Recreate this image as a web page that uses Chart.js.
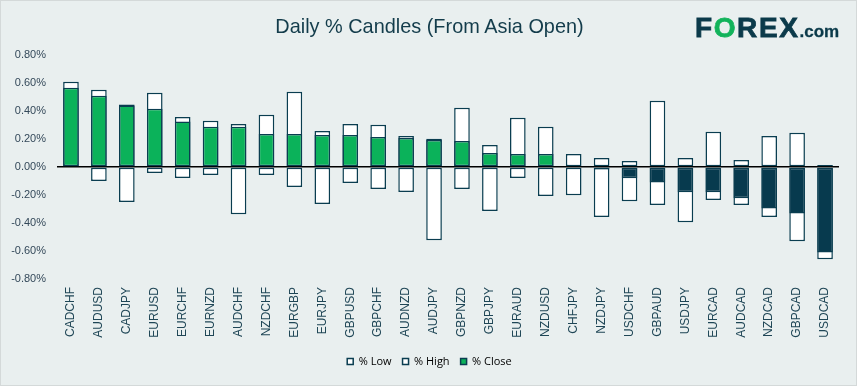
<!DOCTYPE html>
<html>
<head>
<meta charset="utf-8">
<script src="https://cdn.jsdelivr.net/npm/chart.js@4"></script>
<style>
  html, body { margin: 0; padding: 0; background: #fff; }
  .frame {
    position: relative;
    width: 855px;
    height: 384px;
    border: 1px solid #d4d9d9;
    background: #e9efef;
  }
  canvas { position: absolute; left: -1px; top: -1px; }
  .title {
    position: absolute;
    left: 0;
    width: 857px;
    top: 13px;
    text-align: center;
    font: 21px "Liberation Sans", Arial, sans-serif;
    color: #133c4b;
    transform: scaleX(0.947);
  }
  .logo {
    position: absolute;
    left: 694px;
    top: 11px;
    font: bold 28px "Liberation Sans", Arial, sans-serif;
    color: #0b3a4a;
    letter-spacing: 1.6px;
    -webkit-text-stroke: 0.8px #0b3a4a;
    white-space: nowrap;
  }
  .logo .o { color: #12b35b; -webkit-text-stroke: 0.8px #12b35b; }
  .logo .com { font-size: 17px; letter-spacing: 0; -webkit-text-stroke: 0.3px #0b3a4a; }
</style>
</head>
<body>
<div class="frame">
  <canvas id="candles" width="857" height="386"></canvas>
  <div class="title">Daily % Candles (From Asia Open)</div>
  <div class="logo">F<span class="o">O</span>REX<span class="com">.com</span></div>
</div>
<script>
const pairs = [
  "CADCHF", "AUDUSD", "CADJPY", "EURUSD", "EURCHF", "EURNZD", "AUDCHF",
  "NZDCHF", "EURGBP", "EURJPY", "GBPUSD", "GBPCHF", "AUDNZD", "AUDJPY",
  "GBPNZD", "GBPJPY", "EURAUD", "NZDUSD", "CHFJPY", "NZDJPY", "USDCHF",
  "GBPAUD", "USDJPY", "EURCAD", "AUDCAD", "NZDCAD", "GBPCAD", "USDCAD",
];
const lowPct = [
  0.0, -0.1, -0.25, -0.043, -0.079, -0.057, -0.337,
  -0.057, -0.143, -0.265, -0.115, -0.158, -0.179, -0.523,
  -0.158, -0.315, -0.079, -0.208, -0.201, -0.358, -0.244,
  -0.272, -0.394, -0.236, -0.272, -0.358, -0.53, -0.659,
];
const highPct = [
  0.609, 0.552, 0.447, 0.53, 0.358, 0.33, 0.308,
  0.373, 0.537, 0.258, 0.308, 0.301, 0.222, 0.201,
  0.423, 0.158, 0.351, 0.287, 0.093, 0.064, 0.043,
  0.473, 0.064, 0.251, 0.05, 0.222, 0.244, 0.014,
];
const closePct = [
  0.566, 0.509, 0.439, 0.416, 0.325, 0.287, 0.287,
  0.236, 0.236, 0.229, 0.229, 0.215, 0.208, 0.193,
  0.186, 0.1, 0.093, 0.093, 0.0, -0.017, -0.081,
  -0.11, -0.181, -0.181, -0.224, -0.296, -0.332, -0.611,
];
const yTicks = [-0.8, -0.6, -0.4, -0.2, 0, 0.2, 0.4, 0.6, 0.8];

const GREEN = "#0bb25a";
const NAVY = "#073a4e";
const EDGE = "#0a3d50";

// nudge the legend so it centres on the whole canvas, like the original
const legendShift = {
  id: "legendShift",
  afterLayout(chart) {
    if (!chart.legend) return;
    chart.legend.left += 10;
    chart.legend.right += 10;
  },
};

new Chart(document.getElementById("candles"), {
  type: "bar",
  data: {
    labels: pairs,
    datasets: [
      {
        label: "% Low",
        data: lowPct,
        backgroundColor: "#ffffff",
        borderColor: EDGE,
        borderWidth: 1.5,
        order: 2,
      },
      {
        label: "% High",
        data: highPct,
        backgroundColor: "#ffffff",
        borderColor: EDGE,
        borderWidth: 1.5,
        order: 1,
      },
      {
        label: "% Close",
        data: closePct,
        backgroundColor: closePct.map((v) => (v >= 0 ? GREEN : NAVY)),
        borderColor: EDGE,
        borderWidth: 1.5,
        order: 0,
      },
    ],
  },
  plugins: [legendShift],
  options: {
    responsive: false,
    animation: false,
    layout: { padding: { top: 55, right: 18, bottom: 9, left: 0 } },
    datasets: {
      bar: { categoryPercentage: 1, barPercentage: 0.56, borderSkipped: false },
    },
    plugins: {
      title: { display: false },
      tooltip: { enabled: false },
      legend: {
        position: "bottom",
        labels: {
          boxWidth: 6,
          boxHeight: 6,
          padding: 11,
          color: "#595959",
          font: { family: "'Open Sans', 'Liberation Sans', sans-serif", size: 11 },
          generateLabels: () => [
            { text: "% Low", fillStyle: "#ffffff", strokeStyle: EDGE, lineWidth: 1.5, datasetIndex: 0, hidden: false },
            { text: "% High", fillStyle: "#ffffff", strokeStyle: EDGE, lineWidth: 1.5, datasetIndex: 1, hidden: false },
            { text: "% Close", fillStyle: GREEN, strokeStyle: EDGE, lineWidth: 1.5, datasetIndex: 2, hidden: false },
          ],
        },
      },
    },
    scales: {
      x: {
        stacked: true,
        border: { display: false },
        grid: { display: false, drawTicks: false },
        ticks: {
          minRotation: 90,
          maxRotation: 90,
          autoSkip: false,
          padding: 8,
          color: "#1f4656",
          font: { family: "'Liberation Sans', Arial, sans-serif", size: 12 },
        },
        afterFit: (scale) => { scale.height = 66; },
      },
      y: {
        stacked: false,
        min: -0.8,
        max: 0.8,
        z: 1,
        border: { display: false },
        grid: {
          drawTicks: false,
          lineWidth: 1.5,
          color: (ctx) => (ctx.tick && ctx.tick.value === 0 ? "#000000" : "rgba(0,0,0,0)"),
        },
        afterBuildTicks: (scale) => {
          scale.ticks = yTicks.map((v) => ({ value: v }));
        },
        ticks: {
          padding: 11,
          color: "#34495a",
          font: { family: "'Liberation Sans', Arial, sans-serif", size: 11 },
          callback: (value) => value.toFixed(2) + "%",
        },
        afterFit: (scale) => { scale.width = 57; },
      },
    },
  },
});
</script>
</body>
</html>
